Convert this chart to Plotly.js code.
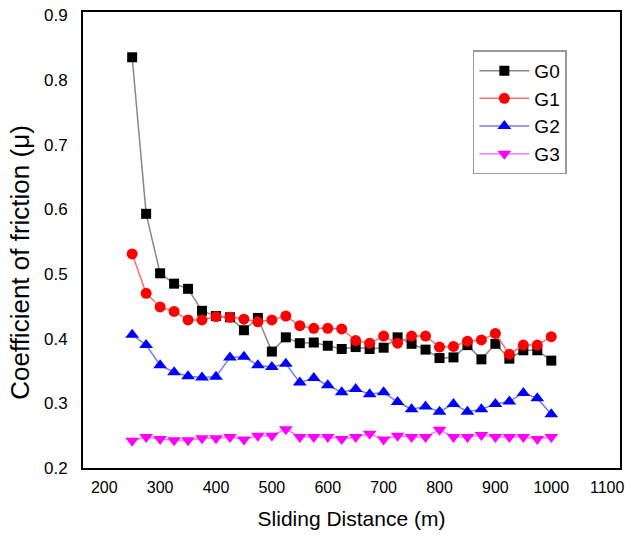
<!DOCTYPE html>
<html>
<head>
<meta charset="utf-8">
<script src="https://cdn.plot.ly/plotly-3.0.1.min.js"></script>
<style>html,body{margin:0;padding:0;background:#fff;}#chart{width:631px;height:540px;}</style>
</head>
<body>
<div id="chart"></div>
<script>
var distance = [250,275,300,325,350,375,400,425,450,475,500,525,550,575,600,625,650,675,700,725,750,775,800,825,850,875,900,925,950,975,1000];
var g0 = [0.835,0.593,0.501,0.485,0.477,0.443,0.435,0.433,0.413,0.432,0.380,0.402,0.393,0.394,0.389,0.384,0.387,0.384,0.386,0.402,0.392,0.383,0.370,0.371,0.390,0.368,0.392,0.369,0.382,0.382,0.366];
var g1 = [0.531,0.470,0.449,0.442,0.429,0.429,0.434,0.433,0.430,0.426,0.429,0.435,0.420,0.416,0.416,0.415,0.397,0.393,0.404,0.393,0.404,0.404,0.387,0.388,0.396,0.398,0.408,0.376,0.390,0.390,0.403];
var g2 = [0.406,0.390,0.359,0.348,0.342,0.340,0.341,0.371,0.372,0.359,0.356,0.361,0.332,0.339,0.328,0.317,0.322,0.314,0.317,0.302,0.291,0.295,0.287,0.299,0.287,0.291,0.299,0.303,0.316,0.308,0.283];
var g3 = [0.242,0.248,0.245,0.243,0.243,0.246,0.246,0.248,0.244,0.250,0.250,0.260,0.248,0.248,0.248,0.245,0.248,0.253,0.244,0.250,0.248,0.248,0.259,0.248,0.248,0.251,0.248,0.248,0.248,0.245,0.248];
var seriesNames = ['G0','G1','G2','G3'];
var xTitle = 'Sliding Distance (m)';
var yTitle = 'Coefficient of friction (\u03bc)';

var FONT = 'Liberation Sans, Arial, Helvetica, sans-serif';
function tr(name, y, mcolor, lcolor, symbol, size) {
  return {x: distance, y: y, name: name, type: 'scatter', mode: 'lines+markers',
    line: {color: lcolor, width: 1.5},
    marker: {color: mcolor, symbol: symbol, size: size}};
}
var data = [
  tr(seriesNames[0], g0, '#000000', '#888888', 'square', 10),
  tr(seriesNames[1], g1, '#ff0000', '#ff7070', 'circle', 11),
  tr(seriesNames[2], g2, '#0000ff', '#7878ff', 'triangle-up', 12),
  tr(seriesNames[3], g3, '#ff00ff', '#ff78ff', 'triangle-down', 12)
];
var layout = {
  width: 631, height: 540,
  margin: {l: 83, r: 11, t: 12, b: 72},
  paper_bgcolor: '#fff', plot_bgcolor: '#fff',
  font: {family: FONT, color: '#000', size: 16},
  showlegend: true,
  legend: {x: 0.726, y: 0.916, xanchor: 'left', yanchor: 'top',
    bgcolor: '#fff', bordercolor: '#999', borderwidth: 1.5, itemwidth: 50,
    font: {family: FONT, size: 19, color: '#000'}, tracegroupgap: 0},
  xaxis: {range: [162, 1123], tick0: 200, dtick: 100, showgrid: false, zeroline: false,
    showline: true, linecolor: '#000', linewidth: 2, mirror: true, ticks: '',
    ticklabelstandoff: 4,
    tickfont: {family: FONT, size: 16, color: '#000'},
    title: {text: xTitle, font: {family: FONT, size: 21, color: '#000'}, standoff: 16}},
  yaxis: {range: [0.2, 0.905], tick0: 0.2, dtick: 0.1, tickformat: '.1f', showgrid: false, zeroline: false,
    showline: true, linecolor: '#000', linewidth: 2, mirror: true, ticks: '',
    ticklabelstandoff: 10,
    tickfont: {family: FONT, size: 17, color: '#000'}},
  annotations: [{text: yTitle, xref: 'paper', yref: 'paper', x: 0, y: 0.45,
    xanchor: 'center', yanchor: 'middle', xshift: -63, textangle: -90, showarrow: false,
    font: {family: FONT, size: 26, color: '#000'}}]
};
Plotly.newPlot('chart', data, layout, {displayModeBar: false, staticPlot: true});
</script>
</body>
</html>
